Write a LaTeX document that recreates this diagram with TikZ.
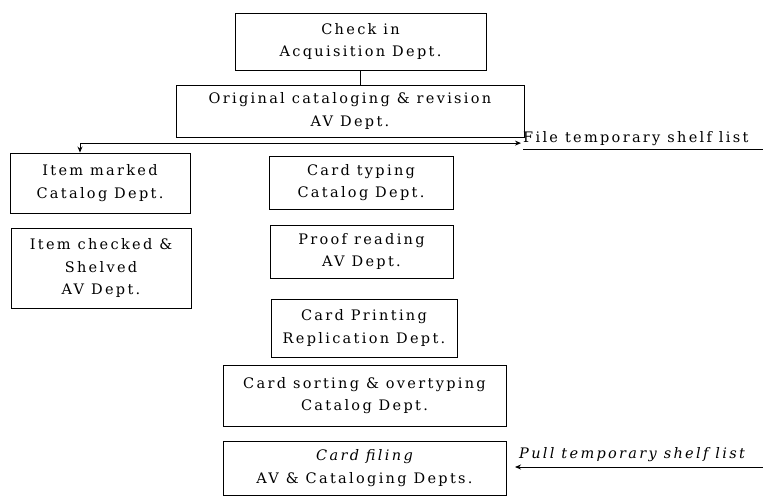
\documentclass[tikz,border=0pt]{standalone}
\usepackage{fontspec}
\setmainfont{DejaVu Serif}[LetterSpace=16]
\usetikzlibrary{arrows.meta}
\begin{document}
\begin{tikzpicture}[x=1pt,y=-1pt,
  box/.style={draw,line width=0.9pt,inner sep=0pt,align=center,font=\fontsize{14.5}{22.5}\selectfont},
  lbl/.style={inner sep=0pt,font=\fontsize{14.5}{22.5}\selectfont},
  conn/.style={line width=0.9pt},
  tipA/.style={-{Stealth[length=6pt,width=5pt]}},
  tipB/.style={{Stealth[length=6pt,width=5pt]}-{Stealth[length=6pt,width=5pt]}}]
\useasboundingbox (0,0) rectangle (763,496);
\node[box,minimum width=251,minimum height=57] (chk) at (360.5,41.5) {Check in\\Acquisition Dept.};
\node[box,minimum width=348,minimum height=52] (orig) at (350,111) {Original cataloging \& revision\\AV Dept.};
\node[box,minimum width=180,minimum height=60] (marked) at (100,183) {Item marked\\Catalog Dept.};
\node[box,minimum width=180,minimum height=80] (checked) at (101,268) {Item checked \&\\Shelved\\AV Dept.};
\node[box,minimum width=184,minimum height=53] (typing) at (361,182.5) {Card typing\\Catalog Dept.};
\node[box,minimum width=183,minimum height=53] (proof) at (361.5,251.5) {Proof reading\\AV Dept.};
\node[box,minimum width=186,minimum height=58] (printing) at (364,328) {Card Printing\\Replication Dept.};
\node[box,minimum width=283,minimum height=61] (sorting) at (364.5,395.5) {Card sorting \& overtyping\\Catalog Dept.};
\node[box,minimum width=283,minimum height=54] (filing) at (364.5,468) {\itshape Card filing\\AV \& Cataloging Depts.};
\node[lbl,anchor=base west] (file) at (523,142) {File temporary shelf list};
\node[lbl,anchor=base west,font=\fontsize{14.5}{22.5}\selectfont\itshape] (pull) at (519,458) {Pull temporary shelf list};
\coordinate (fu1) at (523,149);
\coordinate (fu2) at (763,149);
\coordinate (pl) at (515,467);
\coordinate (pr) at (763,467);
\draw[conn] (chk.south) -- (chk.south |- orig.north);
\draw[conn,tipB] ([xshift=-20pt]marked.north) |- ([xshift=-2pt,yshift=-5pt]file.west);
\draw[conn] (fu1) -- (fu2);
\draw[conn,tipA] (pr) -- (pl);
\end{tikzpicture}
\end{document}
